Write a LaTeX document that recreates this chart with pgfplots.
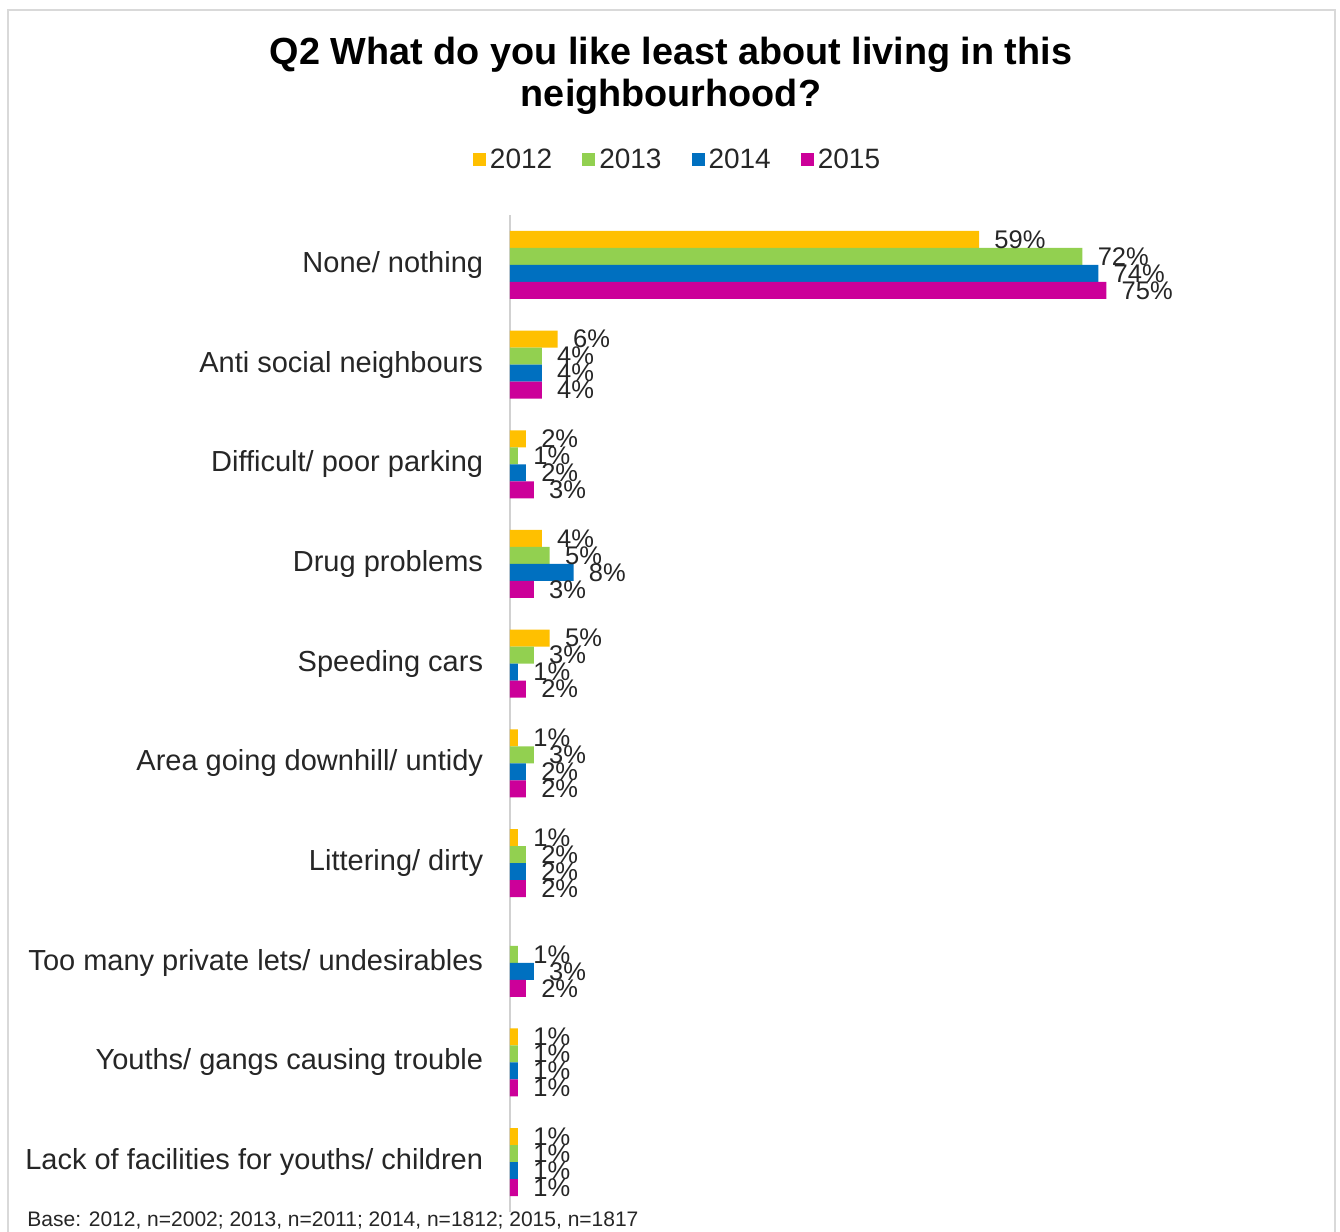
\documentclass[border=0pt]{standalone}
\usepackage{fontspec}
\setmainfont{Liberation Sans}
\usepackage{pgfplots}
\pgfplotsset{compat=1.18}
\definecolor{c12}{HTML}{FFC000}
\definecolor{c13}{HTML}{92D050}
\definecolor{c14}{HTML}{0070C0}
\definecolor{c15}{HTML}{CC0099}
\definecolor{txt}{HTML}{262626}
\begin{document}
\begin{tikzpicture}
\useasboundingbox (0pt,0pt) rectangle (670pt,-616pt);
\fill[white] (0pt,0pt) rectangle (670pt,-616pt);
\draw[black!15, line width=0.8pt] (4pt,-616pt) -- (4pt,-5pt) -- (667.5pt,-5pt) -- (667.5pt,-616pt);
\node[font=\bfseries\fontsize{18.9pt}{22pt}\selectfont, text=black] at (335.5pt,-27.5pt) {Q2 What do you like least about living in this};
\node[font=\bfseries\fontsize{18.9pt}{22pt}\selectfont, text=black] at (335.5pt,-48.5pt) {neighbourhood?};
\node[anchor=west, font=\fontsize{10.5pt}{12pt}\selectfont, text=txt, inner sep=0pt] at (13.5pt,-610pt) {Base: 2012, n=2002; 2013, n=2011; 2014, n=1812; 2015, n=1817};
\begin{axis}[
  at={(255pt,-107.5pt)}, anchor=north west,
  scale only axis, width=397.5pt, height=498.5pt,
  xbar, bar width=8.5pt,
  xmin=0, xmax=100, ymin=-0.5, ymax=9.5,
  axis lines*=left,
  x axis line style={draw=none},
  y axis line style={draw=black!18, line width=1.2pt},
  xtick=\empty,
  ytick={0,...,9},
  yticklabels={Lack of facilities for youths/ children, Youths/ gangs causing trouble, Too many private lets/ undesirables, Littering/ dirty, Area going downhill/ untidy, Speeding cars, Drug problems, Difficult/ poor parking, Anti social neighbours, None/ nothing},
  ytick style={draw=none},
  yticklabel style={font=\fontsize{14.5pt}{16pt}\selectfont, text=txt, inner sep=0pt},
  yticklabel shift=9pt,
  /pgf/number format/assume math mode=true,
  point meta=x,
  nodes near coords={\pgfmathprintnumber{\pgfplotspointmeta}\%},
  nodes near coords style={font=\fontsize{12.75pt}{14pt}\selectfont, text=txt, anchor=west, inner sep=0pt, xshift=7.5pt},
  legend columns=-1,
  legend style={at={(0.212,1.0552)}, anchor=center, draw=none, fill=none,
    font=\fontsize{14pt}{16pt}\selectfont, text=txt,
    /tikz/every even column/.append style={column sep=13pt},
    /tikz/every odd column/.append style={column sep=0pt},
    inner sep=0pt},
  legend image code/.code={\fill[#1] (0pt,-3.25pt) rectangle (6.5pt,3.25pt);},
  clip=false,
]
\addplot[fill=c12, draw=none, bar shift=12.75pt] coordinates {(59,9) (6,8) (2,7) (4,6) (5,5) (1,4) (1,3) (1,1) (1,0)};
\addplot[fill=c13, draw=none, bar shift=4.25pt] coordinates {(72,9) (4,8) (1,7) (5,6) (3,5) (3,4) (2,3) (1,2) (1,1) (1,0)};
\addplot[fill=c14, draw=none, bar shift=-4.25pt] coordinates {(74,9) (4,8) (2,7) (8,6) (1,5) (2,4) (2,3) (3,2) (1,1) (1,0)};
\addplot[fill=c15, draw=none, bar shift=-12.75pt] coordinates {(75,9) (4,8) (3,7) (3,6) (2,5) (2,4) (2,3) (2,2) (1,1) (1,0)};
\legend{2012,2013,2014,2015}
\end{axis}
\end{tikzpicture}
\end{document}
